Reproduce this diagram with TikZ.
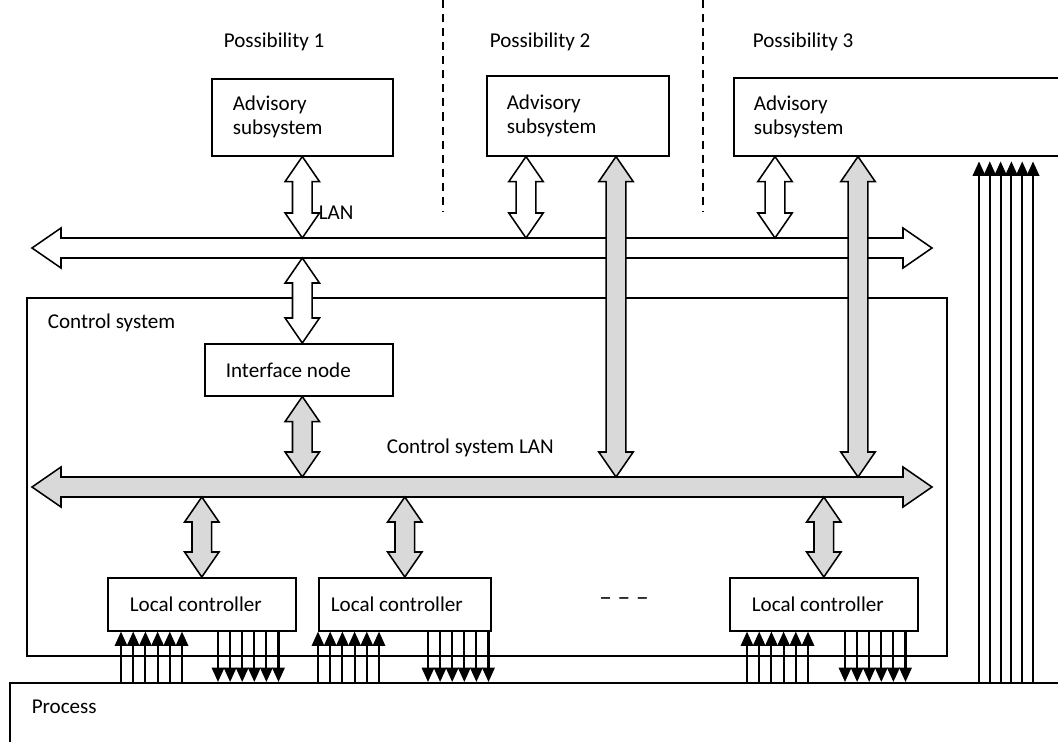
\documentclass[tikz,border=0pt]{standalone}
\usepackage{fontspec}
\setmainfont{Carlito}
\usetikzlibrary{arrows.meta}
\usetikzlibrary{calc}
\definecolor{busgray}{HTML}{D9D9D9}

% hollow double block arrow from #2 to #3
\newcommand{\fatarrow}[3][white]{%
  \draw[fat,fill=#1] (#2)
    -- ($(#2)!\ahl!(#3)!\ahw!90:(#3)$)
    -- ($(#2)!\ahl!(#3)!\asw!90:(#3)$)
    -- ($(#3)!\ahl!(#2)!\asw!-90:(#2)$)
    -- ($(#3)!\ahl!(#2)!\ahw!-90:(#2)$)
    -- (#3)
    -- ($(#3)!\ahl!(#2)!\ahw!90:(#2)$)
    -- ($(#3)!\ahl!(#2)!\asw!90:(#2)$)
    -- ($(#2)!\ahl!(#3)!\asw!-90:(#3)$)
    -- ($(#2)!\ahl!(#3)!\ahw!-90:(#3)$)
    -- cycle;}

\begin{document}
\begin{tikzpicture}[x=0.025cm,y=-0.025cm,line width=1.1pt,
      font=\fontsize{15}{17}\selectfont,
      box node/.style={draw,anchor=north west,align=flush left,inner ysep=0pt,inner xsep=0.525cm},
      text node/.style={anchor=base west,inner sep=0pt},
      sig/.style={line width=1.5pt,-{Triangle[width=0.31cm,length=0.36cm]}},
      fat/.style={line width=1.1pt},
      sep/.style={line width=1.1pt,dash pattern=on 5.7pt off 4.3pt}]
    \useasboundingbox (0,0) rectangle (1058,742);
    \clip (0,0) rectangle (1058,742);

    % the three possibilities
    \node[text node] (pos1) at (223,48) {Possibility 1};
    \node[text node] (pos2) at (489,48) {Possibility 2};
    \node[text node] (pos3) at (752,48) {Possibility 3};
    \draw[sep] (443,0) -- (443,212);
    \draw[sep] (703,0) -- (703,212);

    \node[box node,text width=3.475cm,minimum height=1.925cm] (adv1) at (211,78) {Advisory\\subsystem};
    \node[box node,inner xsep=0.5cm,text width=3.55cm,minimum height=2cm] (adv2) at (486,75) {Advisory\\subsystem};
    \node[box node,inner xsep=0.5cm,text width=7.5cm,minimum height=1.95cm] (adv3) at (733,77) {Advisory\\subsystem};

    % control system
    \node[draw,anchor=north west,inner sep=0pt,minimum width=23cm,minimum height=8.95cm] (csys) at (26,297) {};
    \node[text node] (csyslbl) at (47,328) {Control system};
    \node[box node,text width=3.65cm,minimum height=1.3cm] (iface) at (204,343) {Interface node};
    \node[box node,inner xsep=0.55cm,text width=3.6cm,minimum height=1.325cm] (lc1) at (107,577) {Local controller};
    \node[box node,inner xsep=0.3cm,text width=3.7cm,minimum height=1.325cm] (lc2) at (318,577) {Local controller};
    \node[box node,inner xsep=0.55cm,text width=3.6cm,minimum height=1.325cm] (lc3) at (729,577) {Local controller};
    \node[font=\fontsize{18}{20}\selectfont] (dots) at (624,602) {– – –};

    \node[draw,anchor=north west,inner sep=0pt,minimum width=28cm,minimum height=3cm] (proc) at (9,682) {};
    \node[text node] (proclbl) at (31,713) {Process};

    % buses
    \coordinate (lanL) at (32,248);  \coordinate (lanR) at (932,248);
    \coordinate (lanT) at (0,238);   \coordinate (lanB) at (0,258);
    \coordinate (clanL) at (32,487); \coordinate (clanR) at (932,487);
    \coordinate (clanT) at (0,477);  \coordinate (clanB) at (0,497);
    \node[text node] (lanlbl) at (318,219) {LAN};
    \node[text node] (clanlbl) at (386,453) {Control system LAN};

    \def\ahl{0.725cm}\def\ahw{0.5cm}\def\asw{0.25cm}
    \fatarrow{lanL}{lanR}
    \fatarrow[busgray]{clanL}{clanR}

    \coordinate (a2w) at ($(adv2.south west)+(40,0)$);
    \coordinate (a2g) at ($(adv2.south west)+(130,0)$);
    \coordinate (a3w) at ($(adv3.south west)+(42,0)$);
    \coordinate (a3g) at ($(adv3.south west)+(125,0)$);

    \def\ahl{0.625cm}\def\ahw{0.43cm}\def\asw{0.245cm}
    \fatarrow{adv1.south}{adv1.south |- lanT}
    \fatarrow{a2w}{a2w |- lanT}
    \fatarrow{a3w}{a3w |- lanT}
    \fatarrow{adv1.south |- lanB}{adv1.south |- iface.north}
    \fatarrow[busgray]{adv1.south |- iface.south}{adv1.south |- clanT}
    \fatarrow[busgray]{a2g}{a2g |- clanT}
    \fatarrow[busgray]{a3g}{a3g |- clanT}
    \fatarrow[busgray]{lc1.north |- clanB}{lc1.north}
    \fatarrow[busgray]{lc2.north |- clanB}{lc2.north}
    \fatarrow[busgray]{lc3.north |- clanB}{lc3.north}

    % measurements and control signals
    \foreach \b/\u/\d in {lc1/14/111,lc2/0/110,lc3/18/116}{
      \foreach \i in {0,...,5}{
        \coordinate (up) at ($(\b.south west)+(\u+12.2*\i,0)$);
        \draw[sig] (up |- proc.north) -- (up);
        \coordinate (dn) at ($(\b.south west)+(\d+12.1*\i,0)$);
        \draw[sig] (dn) -- (dn |- proc.north);
      }
    }
    \foreach \i in {0,...,5}{
      \coordinate (rs) at ($(adv3.south west)+(246+10.8*\i,0)$);
      \draw[sig,shorten >=0.12cm] (rs |- proc.north) -- (rs);
    }
\end{tikzpicture}
\end{document}
